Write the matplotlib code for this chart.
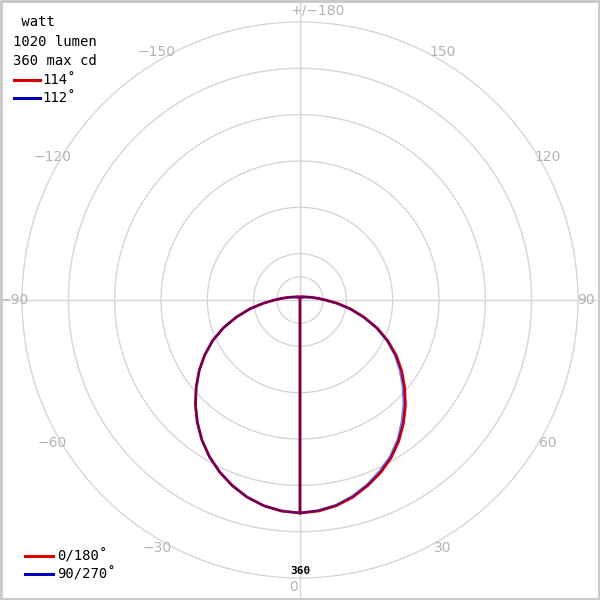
import numpy as np
import matplotlib
matplotlib.use("Agg")
from matplotlib import pyplot as plt
from matplotlib.lines import Line2D
from matplotlib.patches import Rectangle

# candela values, every 5 degrees from nadir (0) to zenith (180)
angles = list(range(0, 185, 5))
red_right = [360, 358, 353, 345, 334, 322, 308, 291, 272, 252, 231, 210, 188, 164, 139, 112, 87, 63, 43,
             31, 23, 18, 14, 12, 10, 9, 8, 7, 7, 6, 6, 6, 5, 5, 5, 5, 5]
red_left = [360, 358, 353, 345, 334, 321, 306, 289, 270, 250, 229, 208, 186, 163, 138, 111, 86, 62, 43,
            31, 23, 18, 14, 12, 10, 9, 8, 7, 7, 6, 6, 6, 5, 5, 5, 5, 5]
blue_right = [360, 357, 352, 343, 332, 319, 305, 288, 268, 248, 227, 206, 185, 162, 137, 110, 85, 62, 42,
              31, 23, 18, 14, 12, 10, 9, 8, 7, 7, 6, 6, 6, 5, 5, 5, 5, 5]
blue_left = [360, 358, 353, 345, 334, 321, 306, 289, 270, 250, 229, 208, 186, 163, 138, 111, 86, 62, 43,
             31, 23, 18, 14, 12, 10, 9, 8, 7, 7, 6, 6, 6, 5, 5, 5, 5, 5]

tick_angles = [30, 60, 90, 120, 150, -30, -60, -90, -120, -150]
info_lines = [" watt", "1020 lumen", "360 max cd"]
beam_labels = ["114\u02da", "112\u02da"]
plane_labels = ["0/180\u02da", "90/270\u02da"]
max_cd = 360

red = "#dd0000"
blue = "#0000bb"
grey = "#d6d6d6"
label_grey = "#b4b4b4"
mono = "DejaVu Sans Mono"


def trace(right, left):
    # start at the centre, drop to nadir, go round the 0..180 side, come back down the other side
    th = [0.0] + [np.radians(a) for a in angles] + [np.radians(-a) for a in angles[::-1]]
    r = [0.0] + right + left[::-1]
    return th, r


fig = plt.figure(figsize=(6, 6), dpi=100)

# background layer in pixel units for the long axis lines, frame and texts
bg = fig.add_axes([0, 0, 1, 1])
bg.set_xlim(0, 600)
bg.set_ylim(600, 0)
bg.axis("off")
bg.plot([0, 600], [300, 300], color=grey, lw=1)
bg.plot([300, 300], [0, 600], color=grey, lw=1)
fig.add_artist(Rectangle((0.002, 0.002), 0.996, 0.996, transform=fig.transFigure,
                         fill=False, edgecolor="#c8c8c8", lw=2))

R_px = 278
rmax = max_cd * R_px / 213.0
ax = fig.add_axes([(300 - R_px) / 600, (300 - R_px) / 600, 2 * R_px / 600, 2 * R_px / 600],
                  projection="polar")
ax.patch.set_alpha(0)
ax.set_theta_zero_location("S")
ax.set_theta_direction(1)
ax.set_ylim(0, rmax)
ax.set_xticks([])
ax.set_yticks([])
ax.spines["polar"].set_visible(False)
ax.grid(False)

ring_t = np.linspace(0, 2 * np.pi, 361)
for k in [0.5, 1, 2, 3, 4, 5, 6]:
    ax.plot(ring_t, np.full_like(ring_t, rmax * k / 6), color=grey, lw=1, zorder=1, clip_on=False)

th, r = trace(red_right, red_left)
ax.plot(th, r, color=red, lw=2.0, zorder=3, solid_joinstyle="round")
th, r = trace(blue_right, blue_left)
ax.plot(th, r, color=blue, lw=1.8, alpha=0.5, zorder=4, solid_joinstyle="round")

lab_r = rmax * 286 / R_px
for a in tick_angles:
    ax.text(np.radians(a), lab_r, str(a).replace("-", "\u2212"), color=label_grey, fontsize=10,
            ha="center", va="center", clip_on=False)
bg.text(291, 10, "+/\u2212180", color=label_grey, fontsize=10, ha="left", va="center")
bg.text(294, 587, "0", color=label_grey, fontsize=10, ha="center", va="center")
bg.text(300, 571, str(max_cd), color="black", fontsize=8, fontweight="bold",
        family=mono, ha="center", va="center")

for i, s in enumerate(info_lines):
    bg.text(13, 22 + 19.5 * i, s, fontsize=10, family=mono, ha="left", va="center")
for i, (s, c) in enumerate(zip(beam_labels, [red, blue])):
    y = 80 + 18 * i
    bg.add_line(Line2D([14, 40], [y, y], color=c, lw=2.2))
    bg.text(42, y, s, fontsize=10, family=mono, ha="left", va="center")
for i, (s, c) in enumerate(zip(plane_labels, [red, blue])):
    y = 556 + 18 * i
    bg.add_line(Line2D([25, 53], [y, y], color=c, lw=2.2))
    bg.text(57, y, s, fontsize=10, family=mono, ha="left", va="center")

fig.savefig("out.png", dpi=100)
